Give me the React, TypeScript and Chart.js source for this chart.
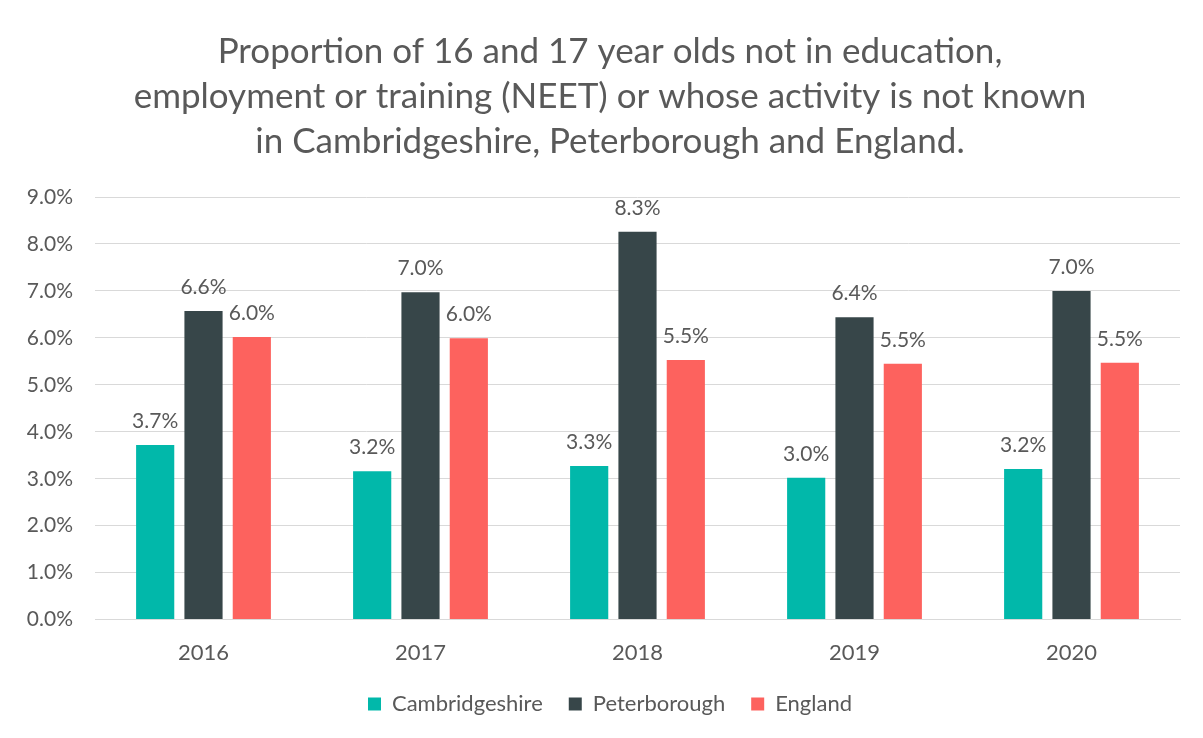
import React, { useEffect, useRef } from "react";
import { Chart, registerables } from "chart.js";

Chart.register(...registerables);

const categories = ["2016", "2017", "2018", "2019", "2020"];
const cambridgeshire = [3.72, 3.16, 3.27, 3.02, 3.21];
const peterborough = [6.57, 6.97, 8.26, 6.44, 7.0];
const england = [6.02, 5.99, 5.53, 5.45, 5.47];
const seriesNames = ["Cambridgeshire", "Peterborough", "England"];
const seriesColors = ["#01B8AA", "#374649", "#FD625E"];
const titleLines = [
  "Proportion of 16 and 17 year olds not in education,",
  "employment or training (NEET) or whose activity is not known",
  "in Cambridgeshire, Peterborough and England.",
];
const yMax = 9;
const yStep = 1;

const FONT = "Lato, 'Open Sans', sans-serif";

const valueLabels = {
  id: "valueLabels",
  afterDatasetsDraw(chart: any) {
    const ctx = chart.ctx;
    ctx.save();
    ctx.font = `21px ${FONT}`;
    ctx.fillStyle = "#595959";
    ctx.textAlign = "center";
    ctx.textBaseline = "alphabetic";
    chart.data.datasets.forEach((ds: any, i: number) => {
      const meta = chart.getDatasetMeta(i);
      meta.data.forEach((bar: any, j: number) => {
        const v = ds.data[j];
        ctx.fillText(v.toFixed(1) + "%", bar.x, bar.y - 17);
      });
    });
    ctx.restore();
  },
};

export default function App() {
  const ref = useRef<HTMLCanvasElement>(null);
  useEffect(() => {
    let chart: any = null;
    let cancelled = false;
    const make = () => {
      if (cancelled || !ref.current) return;
      chart = new Chart(ref.current, {
        type: "bar",
        data: {
          labels: categories,
          datasets: [cambridgeshire, peterborough, england].map((d, i) => ({
            label: seriesNames[i],
            data: d,
            backgroundColor: seriesColors[i],
            borderWidth: 0,
            categoryPercentage: 0.668,
            barPercentage: 0.79,
            yAxisID: "y",
          })),
        },
        options: {
          animation: false,
          responsive: false,
          maintainAspectRatio: false,
          layout: { padding: { left: 0, right: 7, top: 0, bottom: 20 } },
          plugins: {
            title: {
              display: true,
              text: titleLines,
              color: "#595959",
              font: { family: FONT, size: 35, weight: "normal", lineHeight: 1.286 },
              padding: { top: 22, bottom: 33 },
            },
            legend: {
              position: "bottom",
              labels: {
                color: "#595959",
                font: { family: FONT, size: 22 },
                boxWidth: 13,
                boxHeight: 13,
                padding: 26,
              },
            },
            tooltip: { enabled: false },
          },
          scales: {
            x: {
              grid: { display: false },
              border: { color: "#D9D9D9", width: 1 },
              afterFit: (s: any) => {
                s.height = s.height - 11;
              },
              ticks: { color: "#595959", font: { family: FONT, size: 22 }, padding: 12 },
            },
            y: {
              min: 0,
              max: yMax,
              afterFit: (s: any) => {
                s.width = 87;
              },
              grid: { color: "#D9D9D9", lineWidth: 1, drawTicks: false },
              border: { display: false },
              ticks: {
                stepSize: yStep,
                padding: 22,
                color: "#595959",
                font: { family: FONT, size: 21 },
                callback: (v: any) => Number(v).toFixed(1) + "%",
              },
            },
            ySpacer: {
              position: "right",
              min: 0,
              max: yMax,
              grid: { display: false, drawTicks: false },
              border: { display: false },
              ticks: { display: false },
              afterFit: (s: any) => {
                s.width = 32;
              },
            },
          },
        },
        plugins: [valueLabels],
      });
    };
    const fonts: any = (document as any).fonts;
    if (fonts && fonts.load) {
      Promise.all([fonts.load(`21px Lato`), fonts.load(`35px Lato`)]).then(make, make);
    } else make();
    return () => {
      cancelled = true;
      if (chart) chart.destroy();
    };
  }, []);
  return (
    <div
      style={{
        position: "relative",
        marginLeft: -1,
        marginTop: -2,
        width: 1211,
        height: 738,
        border: "1px solid #D9D9D9",
        background: "#fff",
      }}
    >
      <canvas ref={ref} width={1211} height={738} style={{ display: "block" }} />
    </div>
  );
}
